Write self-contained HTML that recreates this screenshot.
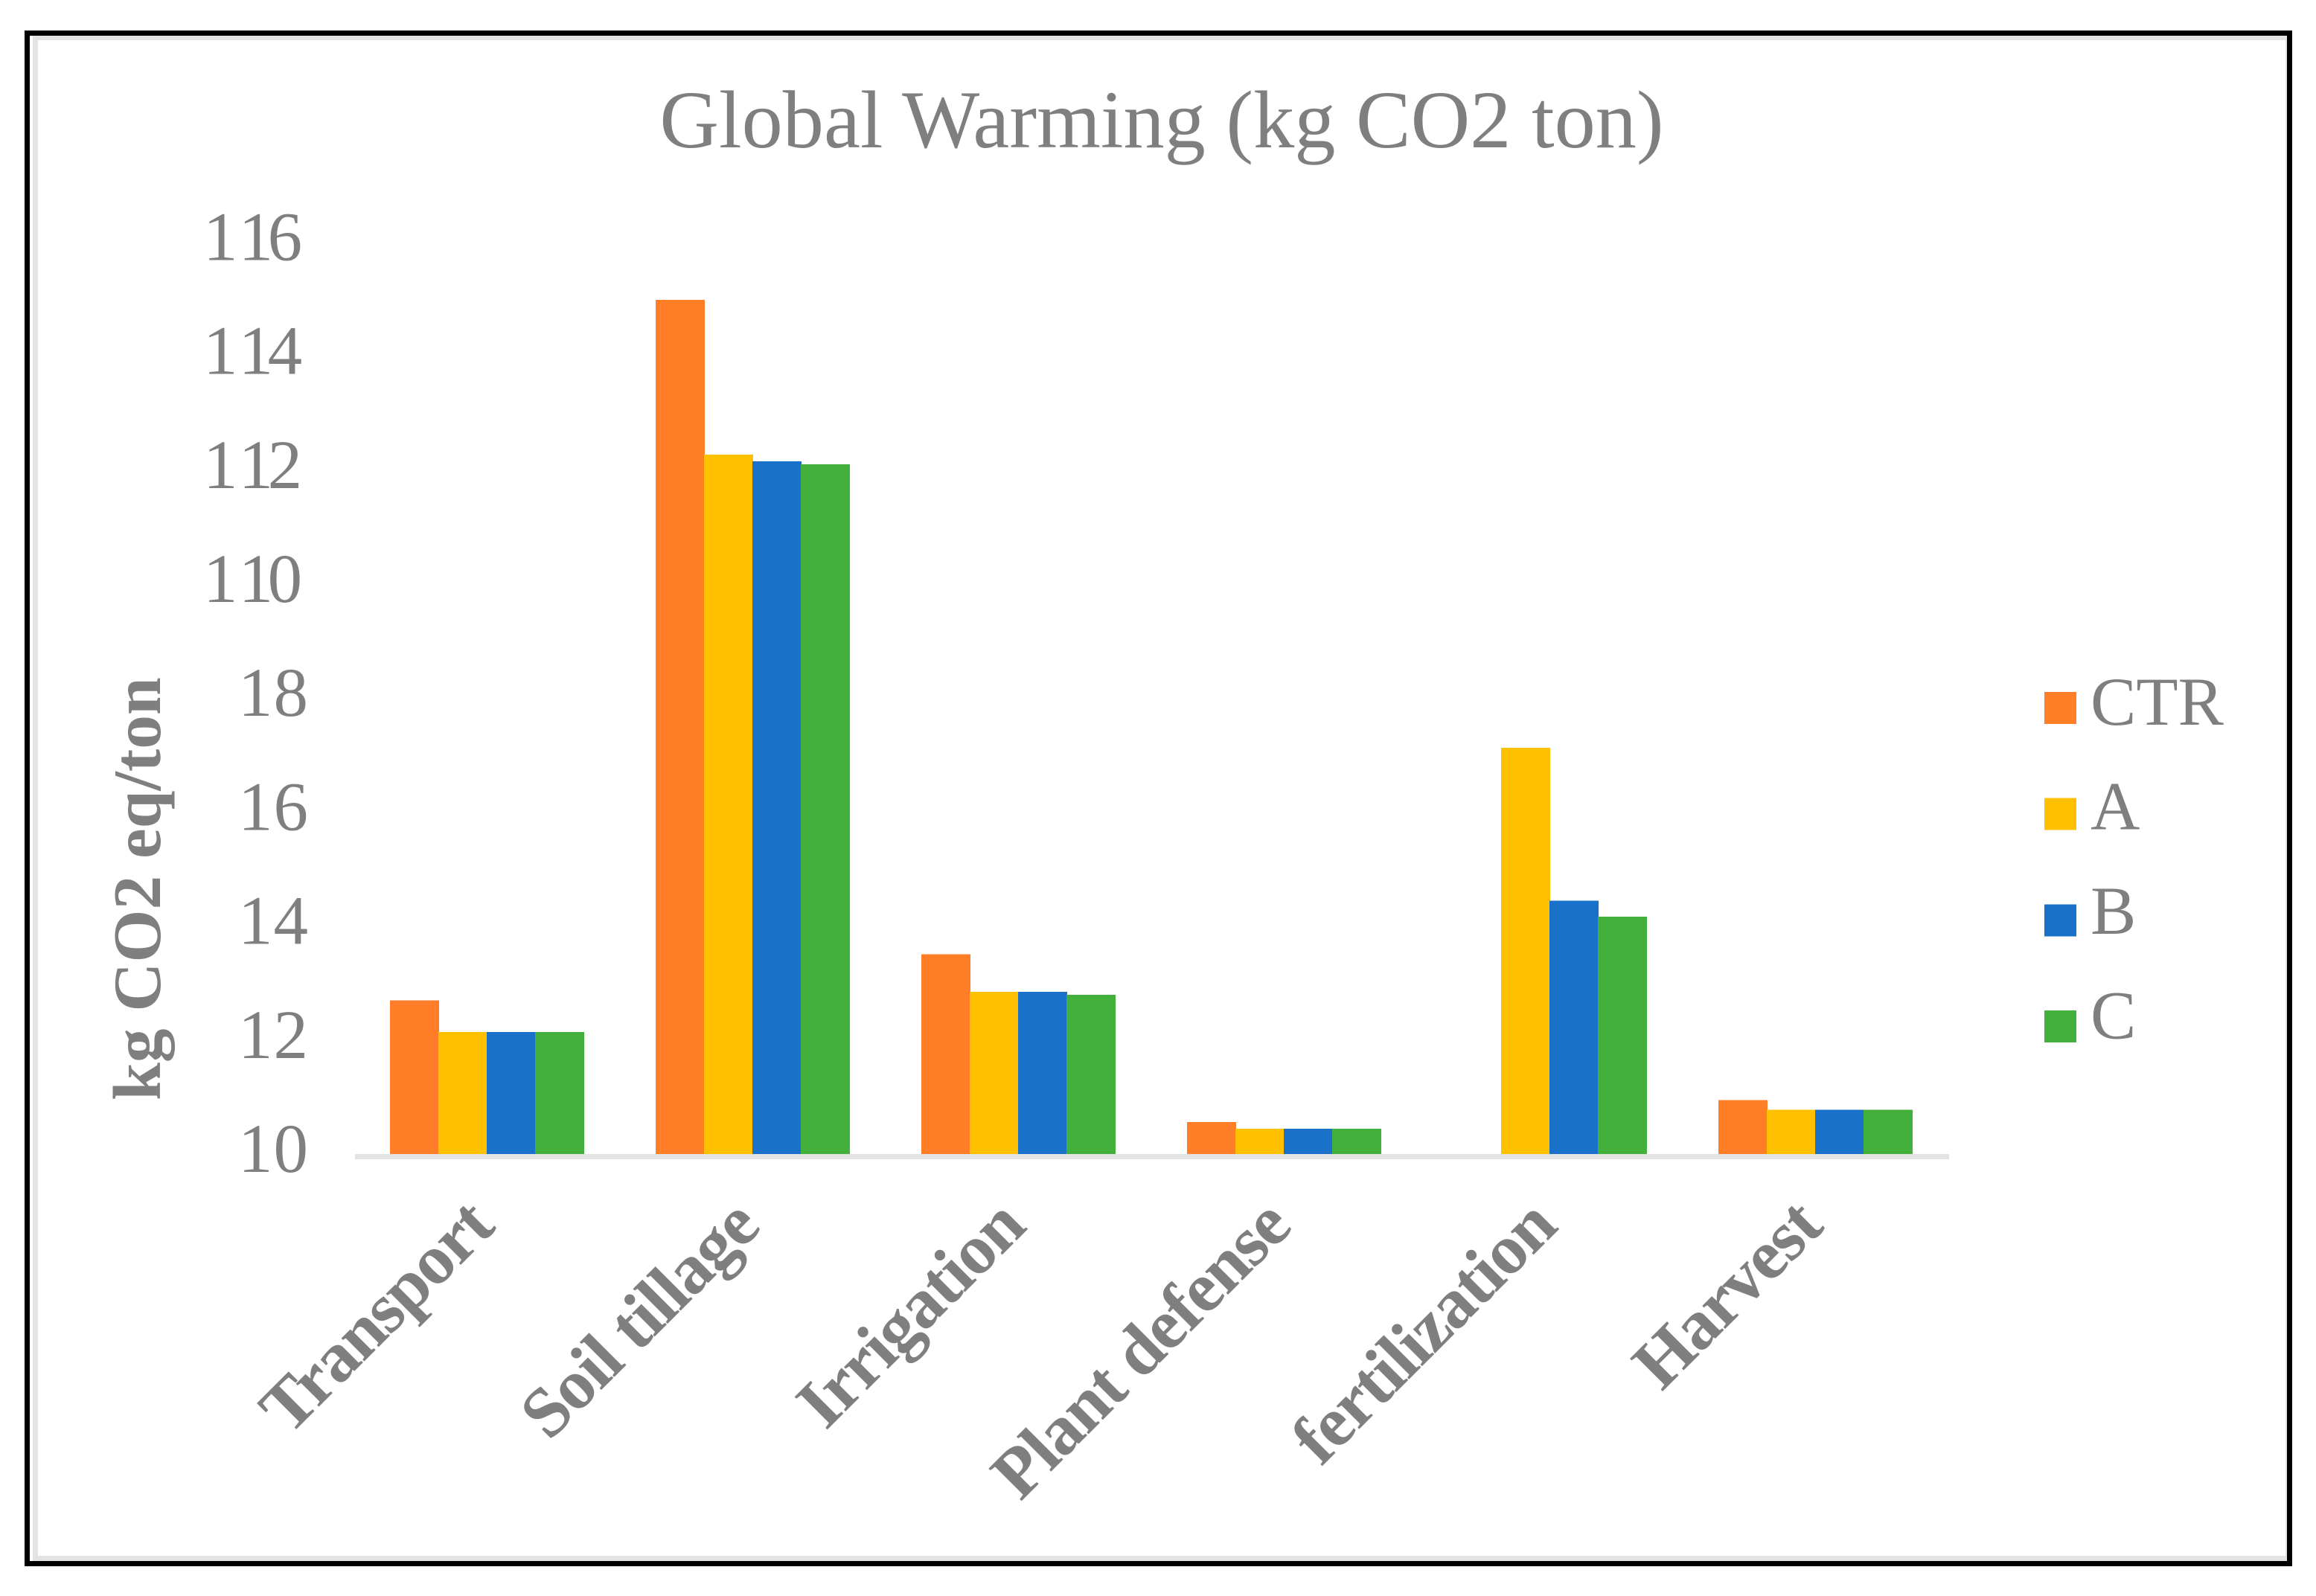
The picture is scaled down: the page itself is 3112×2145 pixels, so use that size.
<!DOCTYPE html>
<html lang="en">
<head>
<meta charset="utf-8">
<title>Global Warming (kg CO2 ton)</title>
<style>
html,body{margin:0;padding:0;background:#fff;width:3112px;height:2145px;overflow:hidden}
svg{display:block}
text{font-family:"Liberation Serif",serif;fill:#7f7f7f}
</style>
</head>
<body>
<svg id="chart" xmlns="http://www.w3.org/2000/svg" width="3112" height="2145" viewBox="0 0 3112 2145">
  <g shape-rendering="crispEdges">
    <rect x="33" y="41" width="3047" height="7" fill="#000"/>
    <rect x="33" y="41" width="7" height="2064" fill="#000"/>
    <rect x="3073" y="41" width="7" height="2064" fill="#000"/>
    <rect x="33" y="2098" width="3047" height="7" fill="#000"/>
    <rect x="44" y="48" width="3029" height="6" fill="#e3e3e3"/>
    <rect x="44" y="48" width="7" height="2050" fill="#e3e3e3"/>
    <rect x="3071" y="48" width="2" height="2050" fill="#e3e3e3"/>
    <rect x="44" y="2091" width="3029" height="7" fill="#e3e3e3"/>
  </g>
  <text x="1561" y="198" text-anchor="middle" font-size="110.3">Global Warming (kg CO2 ton)</text>
  <text transform="translate(215 1479) rotate(-90)" font-size="91.4" font-weight="bold">kg CO2 eq/ton</text>
  <g id="y-ticks"></g>
  <g id="bars" shape-rendering="crispEdges"></g>
  <rect x="477" y="1551" width="2142" height="7" fill="#e3e3e3" shape-rendering="crispEdges"/>
  <g id="x-labels"></g>
  <g id="legend"></g>
</svg>
<script>
const categories = ['Transport', 'Soil tillage', 'Irrigation', 'Plant defense', 'fertilization', 'Harvest'];
const seriesNames = ['CTR', 'A', 'B', 'C'];
const seriesColors = ['#ff7e27', '#ffc000', '#1a71c9', '#44b03c'];
const ctrValues = [2.68, 14.91, 3.49, 0.56, 0, 0.94];
const aValues = [2.13, 12.21, 2.83, 0.44, 7.09, 0.77];
const bValues = [2.13, 12.09, 2.83, 0.44, 4.42, 0.77];
const cValues = [2.13, 12.04, 2.78, 0.44, 4.14, 0.77];
const tickValues = [0, 2, 4, 6, 8, 10, 12, 14, 16];
const tickLabels = ['10', '12', '14', '16', '18', '110', '112', '114', '116'];

const NS = 'http://www.w3.org/2000/svg';
const allSeries = [ctrValues, aValues, bValues, cValues];
const yBase = 1551, yUnit = 77;
const xFirst = 654, xStep = 357, barW = 65;
function yScale(v) { return yBase - v * yUnit; }
function xCenter(i) { return xFirst + i * xStep; }
function barX(i, s) { return xCenter(i) - 2 * barW + s * barW; }
function tickBaseline(v) { return 1575 - v * 76.6; }
function slug(t) { return t.toLowerCase().replace(/\s+/g, '-'); }

const barsG = document.getElementById('bars');
allSeries.forEach(function (values, s) {
  values.forEach(function (v, i) {
    if (v <= 0) return;
    const r = document.createElementNS(NS, 'rect');
    r.setAttribute('x', barX(i, s));
    r.setAttribute('y', yScale(v));
    r.setAttribute('width', barW + 1);
    r.setAttribute('height', yBase - yScale(v));
    r.setAttribute('fill', seriesColors[s]);
    
    
    barsG.appendChild(r);
  });
});

const ticksG = document.getElementById('y-ticks');
tickValues.forEach(function (v, i) {
  const t = document.createElementNS(NS, 'text');
  const three = tickLabels[i].length === 3;
  t.setAttribute('x', three ? 273 : 320);
  t.setAttribute('dx', three ? '0 4.5 -7.5' : '0 1');
  t.setAttribute('y', tickBaseline(v));
  t.setAttribute('font-size', '93');
  
  
  t.textContent = tickLabels[i];
  ticksG.appendChild(t);
});

const labelsG = document.getElementById('x-labels');
categories.forEach(function (c, i) {
  const t = document.createElementNS(NS, 'text');
  t.setAttribute('transform', 'translate(' + (xCenter(i) + 13) + ' 1652) rotate(-45)');
  t.setAttribute('text-anchor', 'end');
  t.setAttribute('font-size', '95');
  t.setAttribute('letter-spacing', '-1.7');
  t.setAttribute('font-weight', 'bold');
  
  
  t.textContent = c;
  labelsG.appendChild(t);
});

const legendG = document.getElementById('legend');
seriesNames.forEach(function (n, s) {
  const top = 930 + s * 142.7;
  const r = document.createElementNS(NS, 'rect');
  r.setAttribute('x', 2747);
  r.setAttribute('y', top);
  r.setAttribute('width', 43);
  r.setAttribute('height', 43);
  r.setAttribute('fill', seriesColors[s]);
  r.setAttribute('shape-rendering', 'crispEdges');
  
  
  legendG.appendChild(r);
  const t = document.createElementNS(NS, 'text');
  t.setAttribute('x', 2809);
  t.setAttribute('y', 974 + s * 140.5);
  t.setAttribute('font-size', '92');
  
  
  t.textContent = n;
  legendG.appendChild(t);
});
</script>
</body>
</html>
